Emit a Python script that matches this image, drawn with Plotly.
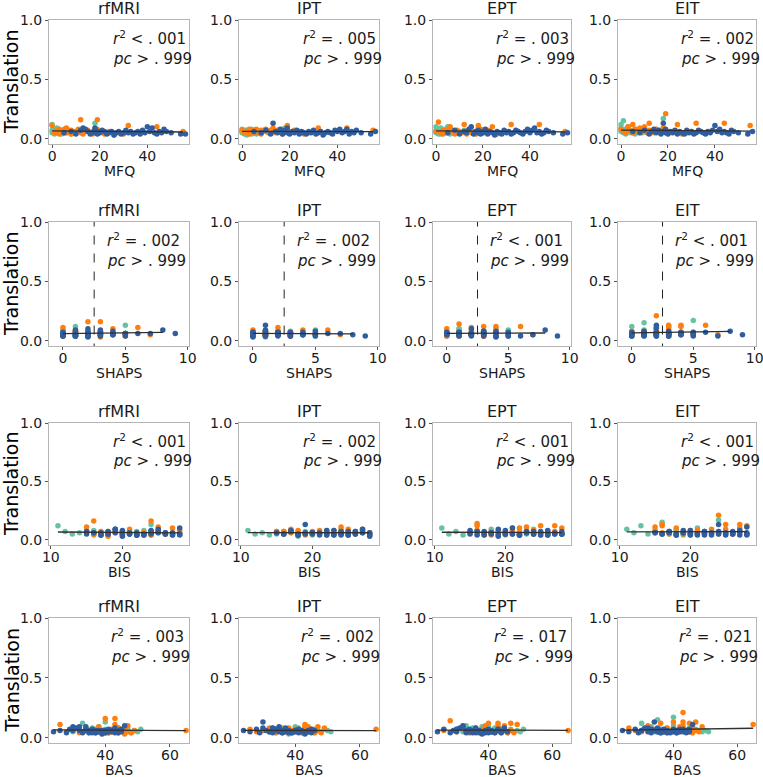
import numpy as np
import plotly.graph_objects as go
from plotly.subplots import make_subplots

# ---------------- data (per subject, per group) ----------------
tasks = ["rfMRI", "IPT", "EPT", "EIT"]
scales = ["MFQ", "SHAPS", "BIS", "BAS"]

# teal group
mfq_t = [0,0,0,1,1,1,2,2,2,3,3,4,4,5,5,6,6,7,8,9,10,12,17,18,19]
shaps_t = [0,0,1,0,1,2,0,1,0,1,2,0,5,1,0,2,1,0,1,2,0,1,3,5,2]
bis_t = [13,12,11,14,16,15,17,18,19,20,21,22,23,21,16,18,20,22,24,25,26,19,17,24,23]
bas_t = [30,32,33,34,35,36,37,38,38,39,40,41,42,43,44,45,46,47,48,49,50,51,36,40,44]
tr_rf_t = [0.05,0.07,0.12,0.06,0.04,0.08,0.05,0.06,0.09,0.05,0.07,0.04,0.06,0.05,0.08,0.06,0.05,0.07,0.04,0.06,0.05,0.07,0.06,0.13,0.08]
tr_ipt_t = [0.06,0.05,0.08,0.04,0.07,0.05,0.06,0.03,0.07,0.05,0.06,0.08,0.04,0.06,0.05,0.07,0.04,0.06,0.05,0.07,0.06,0.05,0.08,0.09,0.06]
tr_ept_t = [0.07,0.05,0.10,0.04,0.08,0.06,0.05,0.09,0.04,0.06,0.07,0.05,0.08,0.10,0.05,0.06,0.04,0.07,0.05,0.06,0.05,0.07,0.06,0.09,0.05]
tr_eit_t = [0.12,0.06,0.09,0.05,0.15,0.07,0.05,0.08,0.04,0.06,0.10,0.05,0.07,0.06,0.05,0.08,0.04,0.07,0.06,0.05,0.06,0.05,0.07,0.17,0.06]

# orange group
mfq_o = [0,1,2,3,3,4,5,5,6,6,7,8,8,9,10,11,12,12,13,14,15,16,17,18,19,19,20,22,24,26,28,30,32,44,55]
shaps_o = [0,1,0,2,1,0,3,2,1,0,2,1,3,0,2,1,3,3,0,1,2,4,3,2,2,1,5,2,4,3,7,5,6,4,3]
bis_o = [15,16,17,18,19,20,16,18,21,22,23,24,25,26,27,28,16,24,17,19,20,21,22,23,24,25,26,27,28,18,20,22,25,27,15]
bas_o = [26,28,30,32,34,35,36,37,38,39,40,41,42,43,43,44,40,43,44,45,46,47,48,49,43,38,42,44,45,46,36,41,43,47,65]
tr_rf_o = [0.11,0.05,0.07,0.04,0.08,0.06,0.05,0.07,0.09,0.05,0.06,0.04,0.07,0.05,0.06,0.08,0.16,0.05,0.04,0.06,0.07,0.05,0.04,0.06,0.16,0.07,0.05,0.04,0.06,0.03,0.05,0.04,0.11,0.10,0.06]
tr_ipt_o = [0.07,0.05,0.06,0.08,0.04,0.06,0.07,0.05,0.08,0.06,0.05,0.07,0.04,0.06,0.08,0.05,0.07,0.06,0.09,0.05,0.07,0.06,0.04,0.08,0.11,0.06,0.05,0.07,0.06,0.04,0.05,0.06,0.09,0.09,0.07]
tr_ept_o = [0.06,0.14,0.05,0.07,0.04,0.06,0.08,0.05,0.07,0.10,0.06,0.05,0.04,0.07,0.06,0.05,0.12,0.06,0.04,0.07,0.05,0.06,0.04,0.11,0.08,0.06,0.05,0.07,0.10,0.04,0.05,0.06,0.12,0.12,0.06]
tr_eit_o = [0.08,0.06,0.05,0.10,0.07,0.06,0.12,0.05,0.08,0.06,0.07,0.05,0.09,0.06,0.10,0.05,0.13,0.07,0.06,0.05,0.08,0.06,0.05,0.09,0.21,0.07,0.05,0.06,0.12,0.04,0.05,0.06,0.13,0.13,0.11]

# blue group
mfq_b = [5,8,10,12,13,14,15,16,17,18,18,19,19,20,21,22,23,24,25,26,27,28,29,30,31,32,33,34,35,36,37,38,39,40,41,42,43,44,45,46,47,48,50,54,56]
shaps_b = [0,1,2,0,1,3,2,1,0,2,3,4,1,2,3,5,0,1,4,2,3,6,1,2,3,4,5,0,2,7,3,1,4,2,5,8,3,1,9,2,4,0,3,5,2]
bis_b = [15,16,17,18,19,20,21,22,23,24,25,26,27,28,15,16,17,18,19,20,21,22,23,24,25,26,27,28,18,20,22,24,26,28,17,19,21,23,25,27,24,26,28,22,20]
bas_b = [24,26,28,29,30,31,32,33,33,34,34,35,35,36,36,37,37,38,38,39,39,40,40,41,41,42,42,43,43,44,44,45,45,46,30,32,35,37,39,41,43,34,38,36,40]
tr_rf_b = [0.05,0.06,0.04,0.07,0.09,0.08,0.06,0.04,0.05,0.07,0.09,0.06,0.04,0.05,0.07,0.06,0.04,0.05,0.06,0.03,0.05,0.06,0.04,0.05,0.07,0.05,0.06,0.04,0.05,0.06,0.04,0.07,0.05,0.10,0.06,0.09,0.05,0.04,0.06,0.05,0.08,0.06,0.05,0.04,0.04]
tr_ipt_b = [0.06,0.05,0.07,0.04,0.13,0.06,0.05,0.08,0.04,0.06,0.07,0.05,0.09,0.04,0.06,0.05,0.07,0.04,0.06,0.05,0.04,0.06,0.05,0.07,0.04,0.05,0.06,0.03,0.05,0.06,0.05,0.04,0.07,0.06,0.08,0.05,0.06,0.08,0.04,0.06,0.05,0.07,0.05,0.04,0.06]
tr_ept_b = [0.05,0.07,0.04,0.06,0.05,0.08,0.10,0.04,0.06,0.05,0.07,0.04,0.06,0.05,0.08,0.04,0.06,0.05,0.03,0.06,0.05,0.04,0.07,0.05,0.06,0.04,0.05,0.07,0.06,0.05,0.04,0.06,0.08,0.05,0.07,0.09,0.05,0.06,0.04,0.05,0.07,0.06,0.05,0.04,0.05]
tr_eit_b = [0.06,0.05,0.07,0.04,0.06,0.08,0.05,0.07,0.04,0.13,0.06,0.05,0.08,0.04,0.06,0.05,0.07,0.04,0.06,0.05,0.04,0.07,0.05,0.06,0.04,0.05,0.07,0.06,0.05,0.04,0.06,0.05,0.07,0.11,0.06,0.08,0.05,0.06,0.05,0.04,0.07,0.06,0.05,0.04,0.06]

# reported statistics per panel (rows = scales, cols = tasks)
r2_text = [["< .001", "= .005", "= .003", "= .002"],
           ["= .002", "= .002", "< .001", "< .001"],
           ["< .001", "= .002", "< .001", "< .001"],
           ["= .003", "= .002", "= .017", "= .021"]]
pc_text = [["> .999"] * 4 for _ in range(4)]

# x-axis settings per scale
x_ranges = [[-1.3, 57.5], [-1.12, 10.1], [9.75, 29.3], [22.6, 65.9]]
x_ticks = [[0, 20, 40], [0, 5, 10], [10, 20], [40, 60]]
fit_span = [[0, 55], [0, 8], [11, 28], [24, 65]]
shaps_cutoff = 2.5
y_ticks = [0.0, 0.5, 1.0]

groups = [
    dict(color="#66c2a5", scores=[mfq_t, shaps_t, bis_t, bas_t], tr=[tr_rf_t, tr_ipt_t, tr_ept_t, tr_eit_t]),
    dict(color="#ff7f0e", scores=[mfq_o, shaps_o, bis_o, bas_o], tr=[tr_rf_o, tr_ipt_o, tr_ept_o, tr_eit_o]),
    dict(color="#2f5d9f", scores=[mfq_b, shaps_b, bis_b, bas_b], tr=[tr_rf_b, tr_ipt_b, tr_ept_b, tr_eit_b]),
]

# ---------------- layout geometry (pixels) ----------------
W, H = 763, 777
col_px = [(49, 189), (239, 379), (433, 571), (618, 756)]
row_px = [(20, 144), (222, 346), (423, 545), (618, 743)]
text_x = [0.44, 0.40, 0.44, 0.43]

FONT = "DejaVu Sans"
TXT = "#1a1a1a"

fig = make_subplots(rows=4, cols=4)
annotations = []

for r in range(4):
    for c in range(4):
        xs_all, ys_all = [], []
        for g in groups:
            xs = g["scores"][r]
            ys = g["tr"][c]
            xs_all += list(xs)
            ys_all += list(ys)
            fig.add_trace(go.Scatter(x=xs, y=ys, mode="markers",
                                     marker=dict(color=g["color"], size=5.5, line=dict(width=0)),
                                     showlegend=False, hoverinfo="skip"), row=r + 1, col=c + 1)
        slope, icpt = np.polyfit(np.array(xs_all, float), np.array(ys_all, float), 1)
        fx = np.array(fit_span[r], float)
        fig.add_trace(go.Scatter(x=fx, y=icpt + slope * fx, mode="lines",
                                 line=dict(color="#303030", width=1.3),
                                 showlegend=False, hoverinfo="skip"), row=r + 1, col=c + 1)
        if r == 1:
            fig.add_trace(go.Scatter(x=[shaps_cutoff, shaps_cutoff], y=[-0.1, 1.1], mode="lines",
                                     line=dict(color="#222", width=1, dash="dash"),
                                     showlegend=False, hoverinfo="skip"), row=r + 1, col=c + 1)

        idx = r * 4 + c + 1
        sfx = "" if idx == 1 else str(idx)
        x0, x1 = col_px[c]
        y0, y1 = row_px[r]
        fig.layout["xaxis" + sfx].update(
            domain=[x0 / W, x1 / W], range=x_ranges[r], tickvals=x_ticks[r],
            showgrid=False, zeroline=False, showline=True, mirror=True,
            linecolor="#b5b5b5", linewidth=1, ticks="outside", ticklen=3,
            ticklabelstandoff=-4, ticklabeloverflow="allow",
            tickcolor="#555", tickfont=dict(family=FONT, size=14, color=TXT),
            automargin=False)
        fig.layout["yaxis" + sfx].update(
            domain=[1 - y1 / H, 1 - y0 / H], range=[-0.045, 1.0], tickvals=y_ticks,
            tickformat=".1f", showgrid=False, zeroline=False, showline=True, mirror=True,
            linecolor="#b5b5b5", linewidth=1, ticks="outside", ticklen=3,
            tickcolor="#555", tickfont=dict(family=FONT, size=14, color=TXT),
            automargin=False)

        xd = "x" + sfx + " domain"
        yd = "y" + sfx + " domain"
        annotations.append(dict(text=tasks[c], xref=xd, yref=yd, x=0.5, y=1.0,
                                xanchor="center", yanchor="bottom", yshift=0, showarrow=False,
                                font=dict(family=FONT, size=16, color=TXT)))
        annotations.append(dict(text="<i>r</i><sup>2</sup> " + r2_text[r][c].replace("<", "&lt;").replace(".", ". ", 1),
                                xref=xd, yref=yd, x=text_x[r], y=1 - 18 / 124,
                                xanchor="left", yanchor="middle", showarrow=False,
                                font=dict(family=FONT, size=15, color=TXT)))
        annotations.append(dict(text="<i>pc</i> " + pc_text[r][c].replace(">", "&gt;").replace(".", ". ", 1),
                                xref=xd, yref=yd, x=text_x[r], y=1 - 39 / 124,
                                xanchor="left", yanchor="middle", showarrow=False,
                                font=dict(family=FONT, size=15, color=TXT)))
        annotations.append(dict(text=scales[r], xref=xd, yref="paper", x=0.5,
                                y=1 - (y1 + 27) / H, xanchor="center", yanchor="middle",
                                showarrow=False, font=dict(family=FONT, size=14, color=TXT)))
    annotations.append(dict(text="Translation", xref="paper", yref="paper", x=11 / W,
                            y=1 - (row_px[r][0] + row_px[r][1]) / 2 / H, textangle=-90,
                            xanchor="center", yanchor="middle", showarrow=False,
                            font=dict(family=FONT, size=19, color="#000")))

fig.update_layout(width=W, height=H, margin=dict(l=0, r=0, t=0, b=0),
                  paper_bgcolor="white", plot_bgcolor="white",
                  annotations=annotations, font=dict(family=FONT))

fig.write_html("out.html", config={"displayModeBar": False},
               post_script="document.body.style.margin='0';")
